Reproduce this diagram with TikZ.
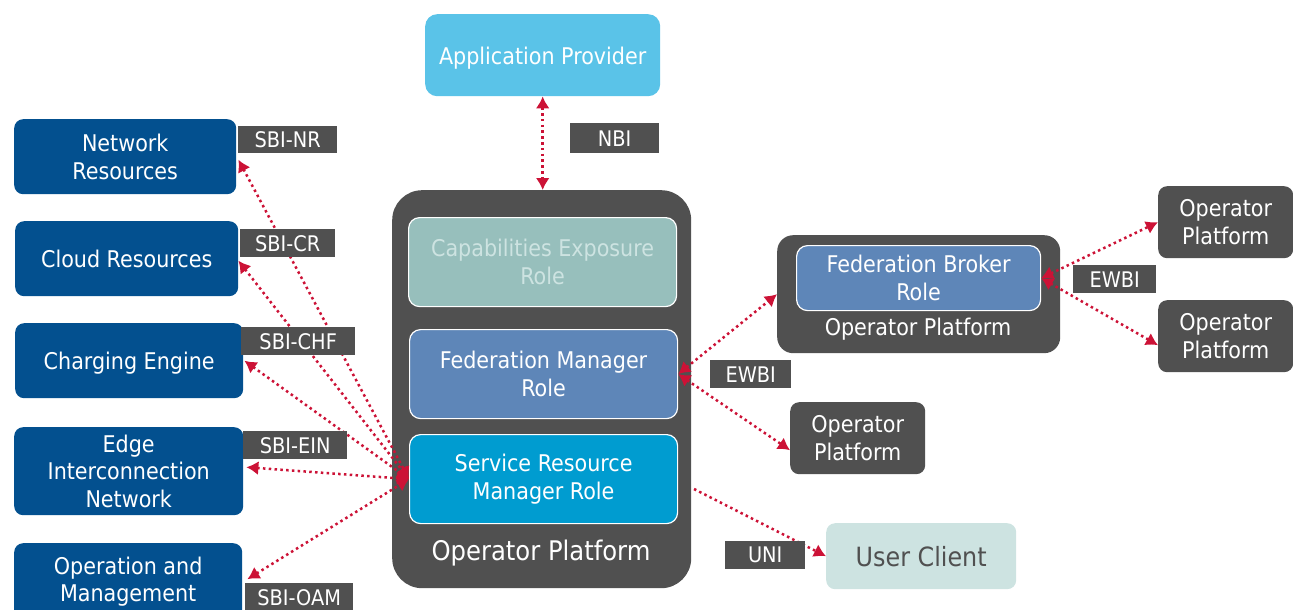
\documentclass[tikz,border=0pt]{standalone}
\usepackage{fontspec}
\setmainfont{DejaVu Sans Condensed}
\usetikzlibrary{arrows.meta}
\definecolor{navy}{HTML}{03508F}
\definecolor{dgray}{HTML}{505050}
\definecolor{sky}{HTML}{5AC3E8}
\definecolor{teal1}{HTML}{97BFBC}
\definecolor{blue1}{HTML}{5E86B8}
\definecolor{cyan1}{HTML}{009CD0}
\definecolor{pale}{HTML}{CDE3E1}
\definecolor{red1}{HTML}{CC1236}
\tikzset{
 x=1pt,y=-1pt,
 mainfont/.style={font=\fontsize{23}{27.5}\selectfont},
 boxn/.style={rounded corners=9pt,fill=navy,text=white,align=center,mainfont,inner sep=0pt,anchor=north west},
 boxg/.style={rounded corners=9pt,fill=dgray,text=white,align=center,mainfont,inner sep=0pt,anchor=north west},
 role/.style={rounded corners=11pt,draw=white,line width=1.2pt,text=white,align=center,mainfont,inner sep=0pt,anchor=north west},
 tagbox/.style={fill=dgray,text=white,font=\fontsize{21.5}{24}\selectfont,inner sep=0pt,anchor=north west},
 link/.style={red1,line width=2.5pt,dash pattern=on 2.5pt off 3.3pt,{Latex[length=12pt,width=14pt]}-{Latex[length=12pt,width=14pt]}},
 linko/.style={red1,line width=2.5pt,dash pattern=on 2.5pt off 3.3pt,-{Latex[length=12pt,width=14pt]}},
}
\begin{document}
\begin{tikzpicture}
\useasboundingbox (0,0) rectangle (1293,610);
\node[boxn,fill=sky,rounded corners=12pt,minimum width=235pt,minimum height=82pt] (ap) at (425,14) {\raisebox{-3pt}[12pt][0pt]{Application Provider}};
\node[boxn,minimum width=222pt,minimum height=75pt] (nr) at (14,119) {Network\\Resources};
\node[boxn,minimum width=223pt,minimum height=75pt] (cr) at (15,221) {Cloud Resources};
\node[boxn,minimum width=228pt,minimum height=75pt] (ce) at (15,323) {\raisebox{-3pt}[12pt][0pt]{Charging Engine}};
\node[boxn,minimum width=229pt,minimum height=88pt] (ei) at (14,427) {Edge\\Interconnection\\Network};
\node[boxn,minimum width=228pt,minimum height=77pt] (om) at (14,543) {Operation and\\Management};
\node[boxg,rounded corners=30pt,minimum width=299pt,minimum height=398pt] (op) at (392,190) {};
\node[role,fill=teal1,minimum width=268pt,minimum height=89pt,text=pale] (cap) at (408,217) {Capabilities Exposure\\Role};
\node[role,fill=blue1,minimum width=268pt,minimum height=89pt] (fm) at (409,329) {Federation Manager\\Role};
\node[role,fill=cyan1,minimum width=268pt,minimum height=89pt] (sr) at (409,434) {Service Resource\\Manager Role};
\node[text=white,font=\fontsize{27}{30}\selectfont,inner sep=0pt] (opl) at (541,553) {Operator Platform};
\node[boxg,rounded corners=16pt,minimum width=283pt,minimum height=118pt] (fb) at (777,235) {};
\node[role,fill=blue1,minimum width=244pt,minimum height=65pt] (fbr) at (796,245) {Federation Broker\\Role};
\node[text=white,mainfont,inner sep=0pt] (fbl) at (918,329) {Operator Platform};
\node[boxg,minimum width=135pt,minimum height=72pt] (o1) at (1158,186) {Operator\\Platform};
\node[boxg,minimum width=135pt,minimum height=72pt] (o2) at (1158,300) {Operator\\Platform};
\node[boxg,minimum width=135pt,minimum height=72pt] (o3) at (790,402) {Operator\\Platform};
\node[boxn,fill=pale,text=dgray,font=\fontsize{26.5}{30}\selectfont,minimum width=190pt,minimum height=66pt] (uc) at (826,523) {User Client};
\draw[link] (ap.south) -- (ap.south |- op.north);
\draw[link] ([shift={(2,3)}]nr.east) -- (sr.west);
\draw[link] ([shift={(0,2)}]cr.east) -- (sr.west);
\draw[link] ([shift={(1,0)}]ce.east) -- (sr.west);
\draw[link] ([shift={(3,-4)}]ei.east) -- (sr.west);
\draw[link] ([shift={(5,-2.5)}]om.east) -- (sr.west);
\draw[link] (fm.east) -- (fb.west);
\draw[link] (fm.east) -- ([shift={(0,12)}]o3.west);
\draw[link] (fbr.east) -- (o1.west);
\draw[link] (fbr.east) -- ([shift={(0,9)}]o2.west);
\coordinate (u0) at (694,489);
\draw[linko] (u0) -- (uc.west);
\node[tagbox,minimum width=99pt,minimum height=27pt] (t1) at (238,126) {SBI-NR};
\node[tagbox,minimum width=95pt,minimum height=28pt] (t2) at (240,229) {SBI-CR};
\node[tagbox,minimum width=114pt,minimum height=28pt] (t3) at (241,327) {SBI-CHF};
\node[tagbox,minimum width=104pt,minimum height=28pt] (t4) at (243,431) {SBI-EIN};
\node[tagbox,minimum width=108pt,minimum height=28pt] (t5) at (245,583) {SBI-OAM};
\node[tagbox,minimum width=89pt,minimum height=30pt] (t6) at (570,123) {NBI};
\node[tagbox,minimum width=83pt,minimum height=28pt] (t7) at (1073,265) {EWBI};
\node[tagbox,minimum width=81pt,minimum height=28pt] (t8) at (710,360) {EWBI};
\node[tagbox,minimum width=80pt,minimum height=28pt] (t9) at (725,541) {UNI};
\end{tikzpicture}
\end{document}
